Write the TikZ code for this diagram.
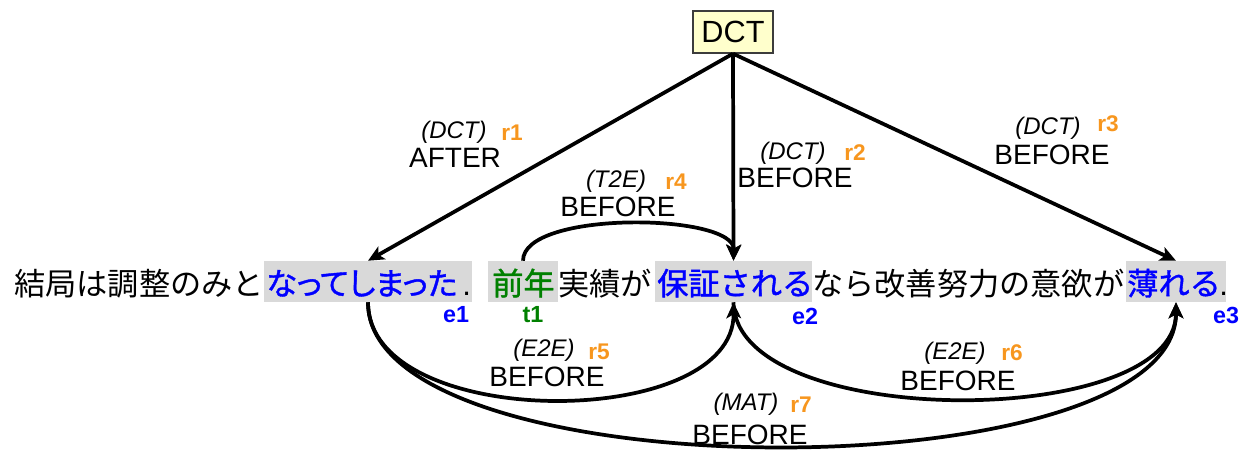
\documentclass[tikz,border=0pt]{standalone}
\usepackage{fontspec}
\setmainfont{Liberation Sans}
\newfontfamily\jpfont{Noto Sans CJK JP}
\newfontfamily\jpbfont[FakeBold=1.2]{Noto Sans CJK JP}
\newfontfamily\jppfont[RawFeature=+palt,FakeBold=1.2]{Noto Sans CJK JP}
\usetikzlibrary{arrows.meta,fit}
\definecolor{hlgray}{RGB}{217,217,217}
\definecolor{rorange}{RGB}{247,150,30}
\definecolor{eblue}{RGB}{0,0,255}
\definecolor{tgreen}{RGB}{0,128,0}
\definecolor{dctfill}{RGB}{255,255,204}
\definecolor{dctdraw}{RGB}{60,60,60}
\tikzset{
  conn/.style={line width=2.8pt,-{Stealth[length=12pt,width=11pt,inset=3pt]}},
  hl/.style={fill=hlgray,draw=none,inner sep=0pt},
  jp/.style={font=\jpfont\fontsize{23.4}{28}\selectfont,inner sep=0pt,anchor=base west},
  jpb/.style={font=\jpbfont\fontsize{23.4}{28}\selectfont,inner sep=0pt,anchor=base west},
  jpp/.style={font=\jppfont\fontsize{23.4}{28}\selectfont,inner sep=0pt,anchor=base west},
  dot/.style={font=\fontsize{23.25}{28}\selectfont,inner sep=0pt,anchor=base west},
  rel/.style={font=\fontsize{21}{24}\selectfont,inner sep=0pt},
  typ/.style={font=\itshape\fontsize{18}{20}\selectfont,inner sep=0pt},
  rid/.style={font=\bfseries\fontsize{17}{20}\selectfont,text=rorange,inner sep=0pt},
  eid/.style={font=\bfseries\fontsize{17.5}{20}\selectfont,inner sep=0pt},
  dctbox/.style={draw=dctdraw,fill=dctfill,line width=1pt,minimum width=60pt,minimum height=31.5pt,inner sep=0pt,font=\fontsize{23}{26}\selectfont},
}
\begin{document}
\begin{tikzpicture}[x=0.75pt,y=-0.75pt]
\useasboundingbox (0,0) rectangle (1246,450);
% DCT
\node[dctbox] (dct) at (733,32) {DCT};
% highlight boxes
\node[hl,fit={(264,261) (472,302)}] (e1) {};
\node[hl,fit={(488,261) (558,302)}] (t1) {};
\node[hl,fit={(655,261) (812,302)}] (e2) {};
\node[hl,fit={(1126,261) (1226,302)}] (e3) {};
% sentence
\node[jp] (s1) at (14,295) {結局は調整のみと};
\node[jpp,text=eblue] (w1) at (266,295) {なってしまった};
\node[dot] (p1) at (462,295) {.};
\node[jpb,text=tgreen] (w2) at (492,295) {前年};
\node[jp] (s2) at (558,295) {実績が};
\node[jpb,text=eblue] (w3) at (657,295) {保証される};
\node[jp] (s3) at (812,295) {なら改善努力の意欲が};
\node[jpb,text=eblue] (w4) at (1127,295) {薄れる};
\node[dot] (p2) at (1219,295) {.};
% ids
\node[eid,text=eblue] (i1) at (456,315) {e1};
\node[eid,text=tgreen] (i2) at (533,315) {t1};
\node[eid,text=eblue] (i3) at (805,316) {e2};
\node[eid,text=eblue] (i4) at (1226,315) {e3};
% connectors
\draw[conn] (dct.south) -- (e1.north);
\draw[conn] (dct.south) -- (e2.north);
\draw[conn] (dct.south) -- (e3.north);
\draw[conn] (t1.north) .. controls (523,210) and (735,213) .. (e2.north);
\draw[conn] (e1.south) .. controls (368,432) and (735,432) .. (e2.south);
\draw[conn] (e2.south) .. controls (735,431) and (1176,431) .. (e3.south);
\draw[conn] (e1.south) .. controls (368,494) and (1176,494) .. (e3.south);
% labels r1
\node[typ] (a1) at (454,132) {(DCT)};
\node[rid] (b1) at (512,133) {r1};
\node[rel] (c1) at (455,158) {AFTER};
% r2
\node[typ] (a2) at (793,153) {(DCT)};
\node[rid] (b2) at (855,153) {r2};
\node[rel] (c2) at (795,178) {BEFORE};
% r3
\node[typ] (a3) at (1048,128) {(DCT)};
\node[rid] (b3) at (1108,124) {r3};
\node[rel] (c3) at (1052,155) {BEFORE};
% r4
\node[typ] (a4) at (616,181) {(T2E)};
\node[rid] (b4) at (676,182) {r4};
\node[rel] (c4) at (618,207) {BEFORE};
% r5
\node[typ] (a5) at (544,350) {(E2E)};
\node[rid] (b5) at (599,352) {r5};
\node[rel] (c5) at (547,377) {BEFORE};
% r6
\node[typ] (a6) at (955,353) {(E2E)};
\node[rid] (b6) at (1012,353) {r6};
\node[rel] (c6) at (958,381) {BEFORE};
% r7
\node[typ] (a7) at (746,404) {(MAT)};
\node[rid] (b7) at (801,405) {r7};
\node[rel] (c7) at (750,435) {BEFORE};
\end{tikzpicture}
\end{document}
